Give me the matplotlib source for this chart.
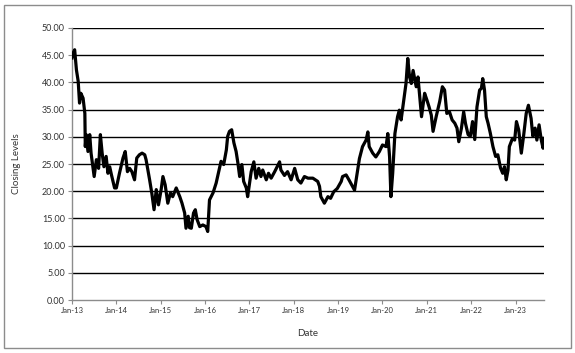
import numpy as np
import pandas as pd
import matplotlib
matplotlib.use("Agg")
import matplotlib.pyplot as plt
import matplotlib.dates as mdates
from matplotlib.patches import Rectangle

# decimal years, with the closing level at each
years = [
    2013.00, 2013.02, 2013.06, 2013.10, 2013.14, 2013.17, 2013.20, 2013.25, 2013.29, 2013.30,
    2013.32, 2013.36, 2013.40, 2013.43, 2013.50, 2013.55, 2013.60, 2013.64, 2013.68, 2013.72,
    2013.77, 2013.81, 2013.85, 2013.89, 2013.96, 2014.00, 2014.07, 2014.15, 2014.20, 2014.25,
    2014.30, 2014.35, 2014.41, 2014.46, 2014.52, 2014.58, 2014.64, 2014.67, 2014.75, 2014.80,
    2014.85, 2014.90, 2014.95, 2015.01, 2015.05, 2015.10, 2015.16, 2015.22, 2015.27, 2015.35,
    2015.43, 2015.48, 2015.54, 2015.57, 2015.62, 2015.65, 2015.69, 2015.74, 2015.78, 2015.82,
    2015.88, 2015.95, 2016.02, 2016.06, 2016.10, 2016.18, 2016.25, 2016.30, 2016.36, 2016.42,
    2016.48, 2016.51, 2016.55, 2016.60, 2016.65, 2016.70, 2016.74, 2016.78, 2016.83, 2016.87,
    2016.93, 2016.96, 2017.04, 2017.10, 2017.15, 2017.21, 2017.26, 2017.30, 2017.38, 2017.43,
    2017.49, 2017.57, 2017.68, 2017.71, 2017.79, 2017.86, 2017.94, 2018.02, 2018.09, 2018.16,
    2018.24, 2018.32, 2018.43, 2018.54, 2018.58, 2018.61, 2018.69, 2018.77, 2018.83, 2018.90,
    2018.98, 2019.07, 2019.10, 2019.18, 2019.25, 2019.37, 2019.44, 2019.48, 2019.55, 2019.63,
    2019.67, 2019.70, 2019.78, 2019.85, 2019.93, 2020.00, 2020.08, 2020.12, 2020.16, 2020.19,
    2020.23, 2020.28, 2020.34, 2020.38, 2020.42, 2020.48, 2020.53, 2020.57, 2020.61, 2020.65,
    2020.69, 2020.76, 2020.80, 2020.88, 2020.95, 2021.00, 2021.05, 2021.10, 2021.14, 2021.21,
    2021.29, 2021.35, 2021.40, 2021.45, 2021.51, 2021.57, 2021.63, 2021.68, 2021.72, 2021.78,
    2021.83, 2021.87, 2021.93, 2021.98, 2022.03, 2022.08, 2022.13, 2022.19, 2022.23, 2022.26,
    2022.30, 2022.34, 2022.38, 2022.43, 2022.49, 2022.55, 2022.60, 2022.66, 2022.71, 2022.75,
    2022.79, 2022.83, 2022.86, 2022.93, 2022.98, 2023.02, 2023.07, 2023.13, 2023.18, 2023.24,
    2023.29, 2023.35, 2023.39, 2023.44, 2023.48, 2023.53, 2023.58, 2023.62, 2023.64,
]
closing = [
    44.5, 45.3, 46.0, 42.3, 40.2, 36.2, 38.0, 37.1, 34.3, 28.2,
    30.4, 27.3, 30.4, 27.0, 22.7, 25.8, 24.2, 30.4, 27.0, 24.5,
    26.4, 23.3, 24.5, 23.0, 20.6, 20.6, 23.3, 26.1, 27.3, 23.6,
    24.2, 23.6, 22.1, 26.1, 26.7, 27.0, 26.7, 25.8, 22.1, 19.6,
    16.6, 20.3, 17.5, 20.3, 22.7, 21.2, 17.8, 19.7, 19.0, 20.6,
    19.0, 17.8, 16.0, 13.2, 15.4, 13.3, 13.2, 16.0, 16.6, 14.8,
    13.5, 13.8, 13.5, 12.6, 18.4, 19.7, 21.5, 23.3, 25.5, 24.9,
    27.6, 30.1, 31.0, 31.3, 28.9, 27.3, 25.2, 22.7, 24.9, 21.8,
    20.6, 19.0, 23.6, 25.4, 22.4, 24.2, 22.7, 23.9, 22.1, 23.3,
    22.4, 23.6, 25.4, 23.9, 22.9, 23.6, 22.1, 24.2, 22.1, 21.5,
    22.7, 22.4, 22.4, 21.8, 20.9, 19.0, 17.8, 19.0, 18.7, 19.9,
    20.5, 21.8, 22.7, 23.0, 22.0, 20.2, 23.9, 26.0, 28.2, 29.4,
    30.9, 28.2, 27.0, 26.3, 27.3, 28.5, 28.2, 30.6, 26.3, 19.0,
    23.3, 30.6, 33.7, 34.9, 33.1, 36.7, 39.8, 44.4, 41.0, 39.8,
    42.2, 39.2, 41.0, 33.7, 38.0, 36.8, 35.5, 34.0, 31.0, 33.7,
    36.5, 39.2, 38.6, 34.3, 34.6, 33.1, 32.5, 31.6, 29.1, 31.6,
    34.6, 32.5, 30.4, 30.1, 32.8, 29.5, 35.5, 38.6, 38.9, 40.7,
    38.6, 33.7, 32.5, 30.7, 28.2, 26.4, 26.7, 24.3, 23.3, 24.5,
    22.1, 23.9, 28.2, 29.7, 29.4, 32.8, 31.3, 27.0, 30.1, 34.3,
    35.8, 33.4, 30.1, 31.6, 29.4, 32.2, 29.4, 27.9, 29.7,
]

y_ticks = np.arange(0, 50.01, 5)

dates = pd.Timestamp("2013-01-01") + pd.to_timedelta(
    (np.array(years) - 2013) * 365.25, unit="D")

plt.rcParams["font.family"] = ["Lato", "DejaVu Sans"]

fig = plt.figure(figsize=(5.75, 3.53), dpi=100)
ax = fig.add_axes([0.1252, 0.150, 0.8208, 0.7707])

# chart area border
fig.patches.append(Rectangle((4 / 575, 5 / 353), 567 / 575, 343 / 353,
                             transform=fig.transFigure, fill=False,
                             edgecolor="#8c8c8c", linewidth=1.0))

for v in y_ticks[1:]:
    ax.axhline(v, color="black", linewidth=1.0, zorder=1)

ax.plot(dates, closing, color="black", linewidth=2.3, zorder=3)

ax.set_ylim(0, 50)
ax.set_xlim(dates[0], dates[-1])
ax.set_yticks(y_ticks)
ax.set_yticklabels([f"{v:.2f}" for v in y_ticks], fontsize=6.5, color="#333333")
ax.xaxis.set_major_locator(mdates.YearLocator())
ax.xaxis.set_major_formatter(mdates.DateFormatter("%b-%y"))
for lbl in ax.get_xticklabels():
    lbl.set_fontsize(5.5)
    lbl.set_color("#333333")

for side in ["top", "right"]:
    ax.spines[side].set_visible(False)
for side in ["left", "bottom"]:
    ax.spines[side].set_color("#8c8c8c")
    ax.spines[side].set_linewidth(1.0)
ax.tick_params(axis="both", direction="out", length=3, width=0.8, color="#8c8c8c", pad=2)

ax.set_ylabel("Closing Levels", fontsize=7, color="#333333", labelpad=15)
ax.set_xlabel("Date", fontsize=7, color="#333333", labelpad=11)

fig.savefig("out.png", dpi=100)
